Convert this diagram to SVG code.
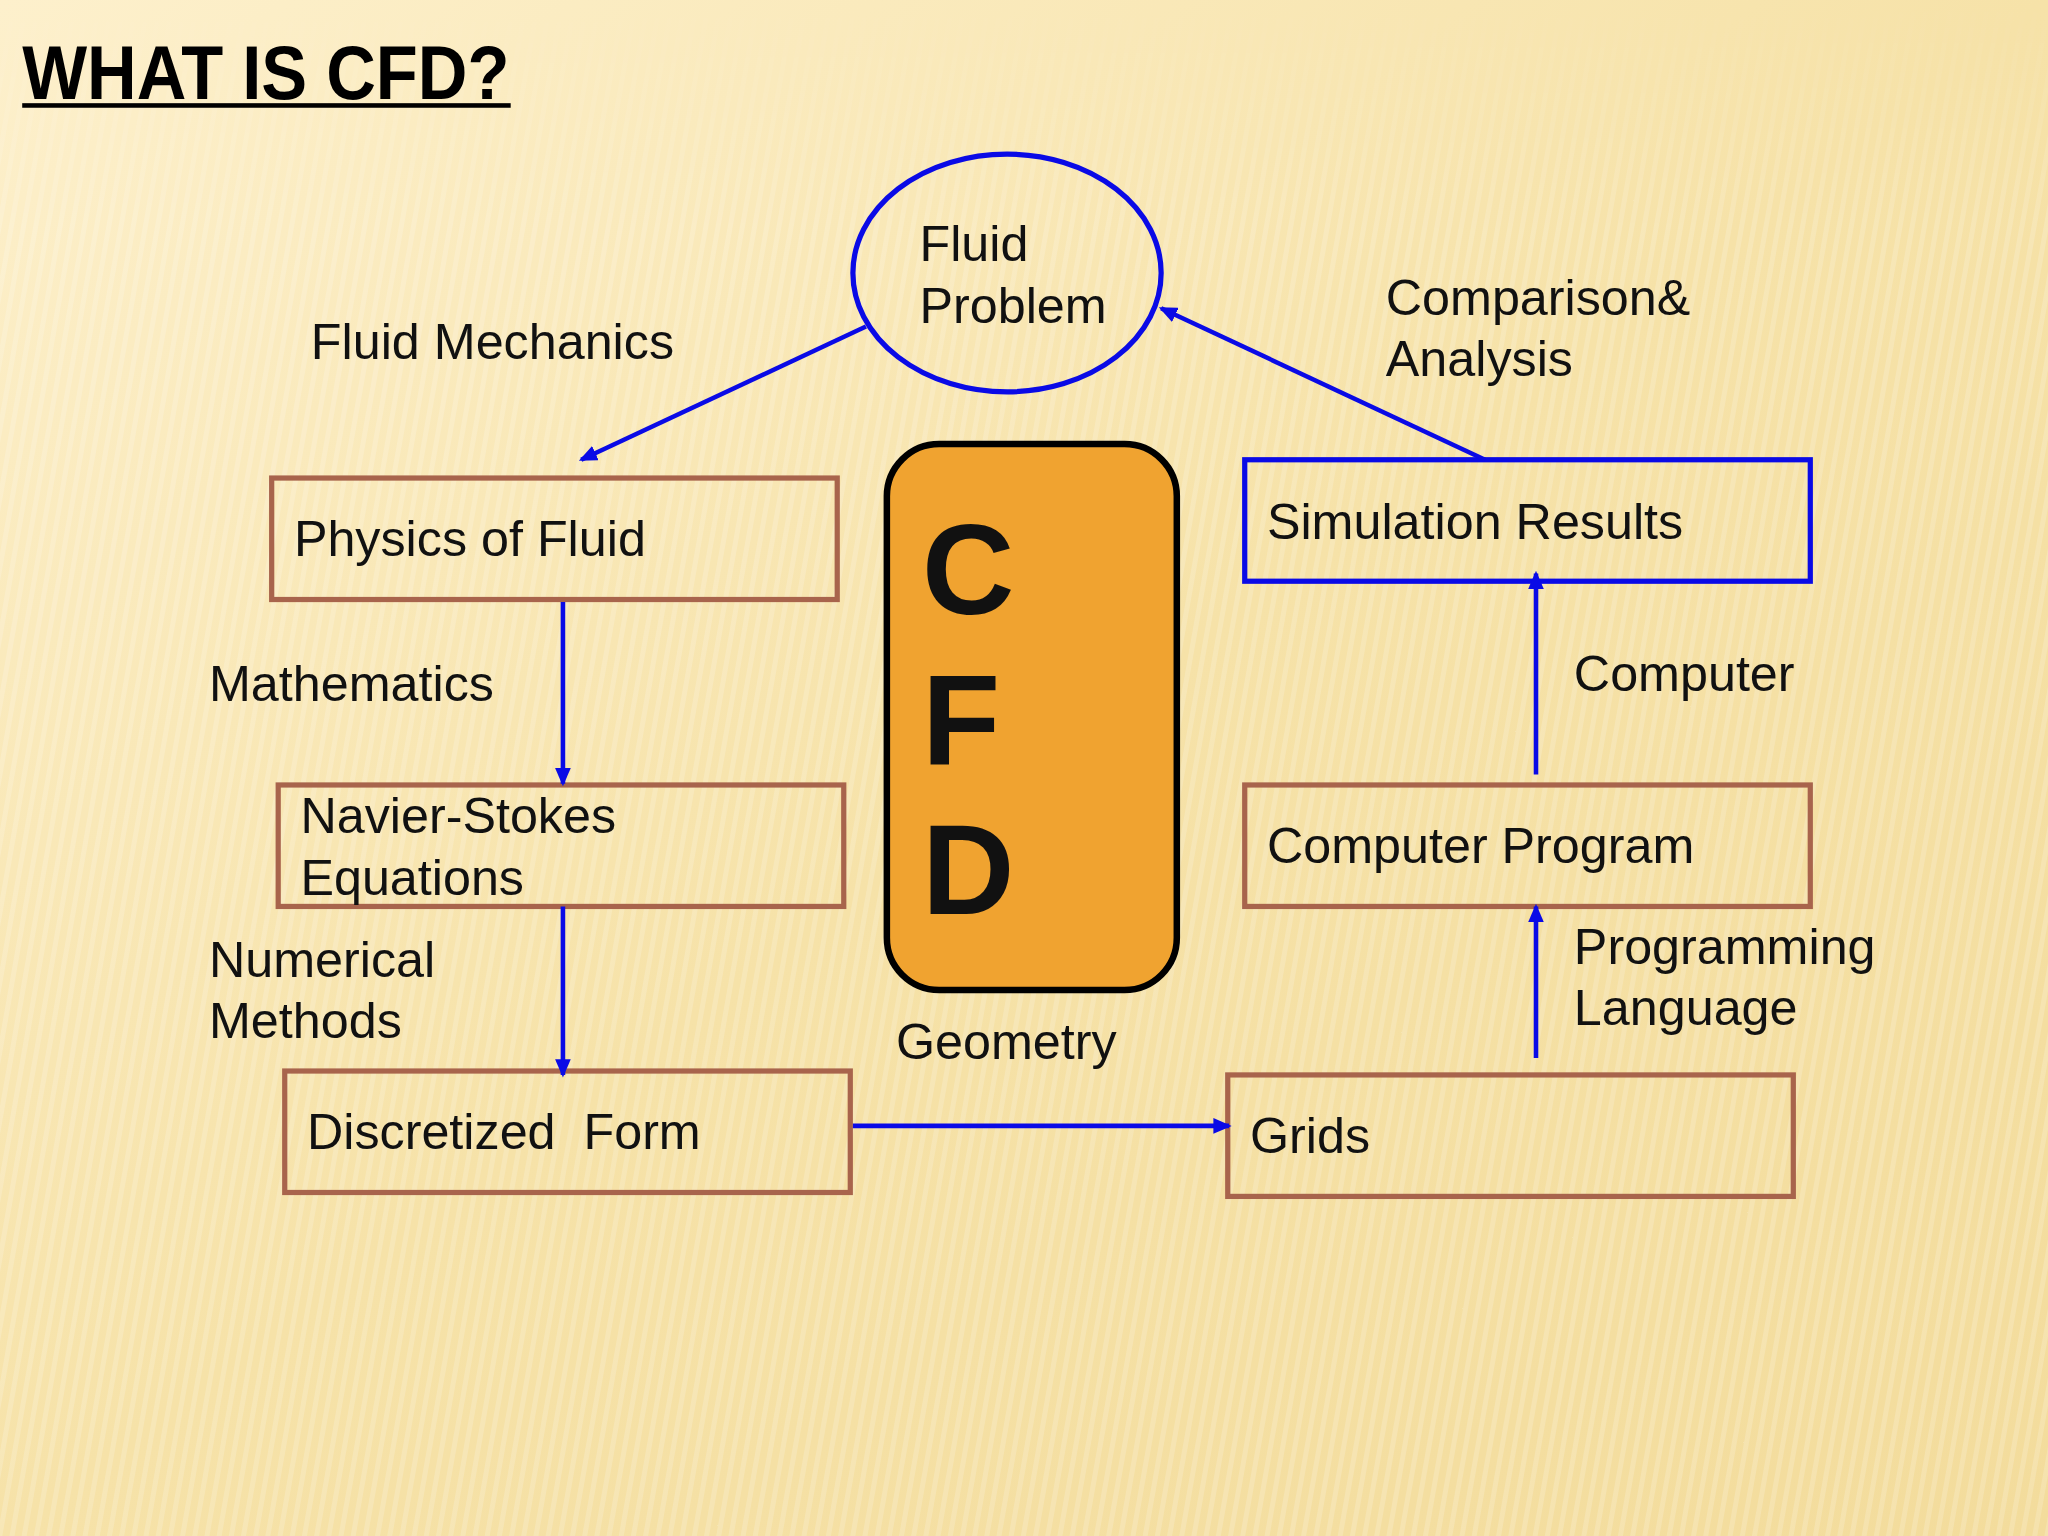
<svg xmlns="http://www.w3.org/2000/svg" width="2048" height="1536" viewBox="0 0 2048 1536">
<defs>
<linearGradient id="bg" x1="0" y1="0" x2="1" y2="1">
<stop offset="0" stop-color="#fdf0cc"/><stop offset="0.5" stop-color="#f6e2a8"/><stop offset="1" stop-color="#f3dc9c"/>
</linearGradient>
<linearGradient id="fade" x1="0" y1="0" x2="0" y2="1">
<stop offset="0" stop-color="#fff" stop-opacity="0"/><stop offset="0.15" stop-color="#fff" stop-opacity="1"/>
</linearGradient>
<mask id="m"><rect width="2048" height="1536" fill="url(#fade)"/></mask>
<pattern id="stripes" width="12" height="12" patternUnits="userSpaceOnUse" patternTransform="rotate(10)">
<rect width="5" height="12" fill="#ffffff" opacity="0.18"/>
</pattern>
<marker id="ah" markerWidth="14" markerHeight="12" refX="12" refY="6" orient="auto" markerUnits="userSpaceOnUse">
<path d="M0,0 L14,6 L0,12 z" fill="#0a0ae6"/>
</marker>
<style>
.t{font-family:"Liberation Sans",Arial,sans-serif;font-size:38.5px;fill:#111}
.box{fill:none;stroke:#a8644c;stroke-width:4}
.blue{fill:none;stroke:#0a0ae6;stroke-width:4}
.c{stroke:#0a0ae6;stroke-width:3.5;fill:none;marker-end:url(#ah)}
.big{font-family:"Liberation Sans",Arial,sans-serif;font-weight:bold;font-size:98px;fill:#111}
</style>
</defs>
<rect width="2048" height="1536" fill="url(#bg)"/>
<rect width="2048" height="1536" fill="url(#stripes)" mask="url(#m)"/>
<g transform="scale(1.30612)">
<text x="17" y="76" font-family="Liberation Sans,Arial,sans-serif" font-weight="bold" font-size="58" textLength="373" lengthAdjust="spacingAndGlyphs" fill="#000">WHAT IS CFD?</text>
<rect x="17" y="79" width="374" height="3.5" fill="#000"/>
<g id="fluid-problem"><ellipse cx="771" cy="209" rx="118" ry="91" class="blue"/><text class="t" x="704" y="200">Fluid</text><text class="t" x="704" y="247">Problem</text></g>
<g id="physics"><rect x="208" y="366" width="433" height="93" class="box"/><text class="t" x="225" y="426">Physics of Fluid</text></g>
<g id="navier"><rect x="213" y="601" width="433" height="93" class="box"/><text class="t" x="230" y="638">Navier-Stokes</text><text class="t" x="230" y="685">Equations</text></g>
<g id="discretized"><rect x="218" y="820" width="433" height="93" class="box"/><text class="t" x="235" y="880" xml:space="preserve">Discretized  Form</text></g>
<g id="simulation"><rect x="953" y="352" width="433" height="93" class="blue"/><text class="t" x="970" y="413">Simulation Results</text></g>
<g id="program"><rect x="953" y="601" width="433" height="93" class="box"/><text class="t" x="970" y="661">Computer Program</text></g>
<g id="grids"><rect x="940" y="823" width="433" height="93" class="box"/><text class="t" x="957" y="883">Grids</text></g>
<g id="cfd"><rect x="679" y="340" width="222" height="418" rx="40" fill="#f0a330" stroke="#000" stroke-width="5"/><text class="big" x="706" y="470">C</text><text class="big" x="706" y="585">F</text><text class="big" x="706" y="700">D</text></g>
<g id="connectors">
<line class="c" x1="663" y1="250" x2="445" y2="352"/>
<line class="c" x1="431" y1="461" x2="431" y2="600"/>
<line class="c" x1="431" y1="694" x2="431" y2="823"/>
<line class="c" x1="653" y1="862" x2="941" y2="862"/>
<line class="c" x1="1176" y1="810" x2="1176" y2="694"/>
<line class="c" x1="1176" y1="593" x2="1176" y2="439"/>
<line class="c" x1="1137" y1="352" x2="889" y2="236"/>
</g>
<g id="labels">
<text class="t" x="238" y="275">Fluid Mechanics</text>
<text class="t" x="160" y="537">Mathematics</text>
<text class="t" x="160" y="748">Numerical</text><text class="t" x="160" y="795">Methods</text>
<text class="t" x="686" y="811">Geometry</text>
<text class="t" x="1061" y="241">Comparison&amp;</text><text class="t" x="1061" y="288">Analysis</text>
<text class="t" x="1205" y="529">Computer</text>
<text class="t" x="1205" y="738">Programming</text><text class="t" x="1205" y="785">Language</text>
</g>
</g>
</svg>
